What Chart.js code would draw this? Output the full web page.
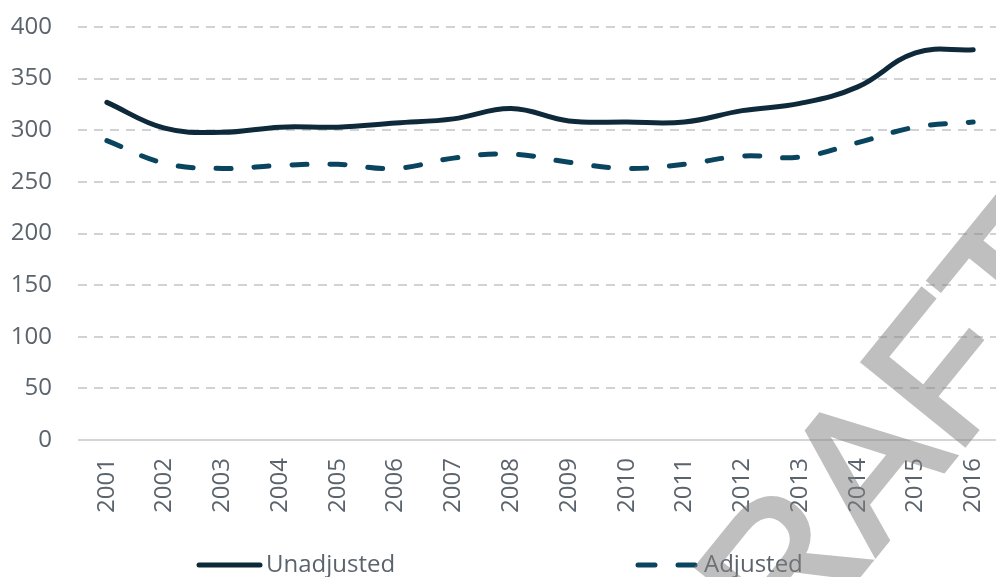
<!DOCTYPE html>
<html>
<head>
<meta charset="utf-8">
<script src="https://cdn.jsdelivr.net/npm/chart.js@4/dist/chart.umd.min.js"></script>
<style>
  html, body { margin: 0; padding: 0; background: #fff; overflow: hidden; }
  #wrap { width: 1020px; height: 577px; }
</style>
</head>
<body>
<div id="wrap"><canvas id="chart" width="1020" height="577"></canvas></div>
<script>
const years = ['2001', '2002', '2003', '2004', '2005', '2006', '2007', '2008',
               '2009', '2010', '2011', '2012', '2013', '2014', '2015', '2016'];
const unadjusted = [327, 302, 298, 303, 303, 307, 311, 321, 309, 308, 308, 319, 326, 342, 375, 378];
const adjusted = [290, 268, 263, 266, 267, 263, 273, 277, 269, 263, 267, 275, 274, 288, 303, 308];
const yTicks = [0, 50, 100, 150, 200, 250, 300, 350, 400];

const FONT = "'Open Sans', sans-serif";
const TEXT = '#5b646c';

// custom legend, spread like the original
const legendPlugin = {
    id: 'spreadLegend',
    afterDraw(chart) {
        const ctx = chart.ctx;
        const y = 565;
        ctx.save();
        ctx.lineCap = 'round';
        ctx.lineWidth = 5;
        ctx.strokeStyle = '#0e2a3a';
        ctx.beginPath();
        ctx.moveTo(199, y);
        ctx.lineTo(260, y);
        ctx.stroke();
        ctx.strokeStyle = '#0a4560';
        ctx.beginPath();
        ctx.moveTo(638, y); ctx.lineTo(655, y);
        ctx.moveTo(678, y); ctx.lineTo(695, y);
        ctx.stroke();
        ctx.fillStyle = TEXT;
        ctx.font = '24px ' + FONT;
        ctx.textBaseline = 'middle';
        ctx.fillText('Unadjusted', 266, y);
        ctx.fillText('Adjusted', 704, y);
        ctx.restore();
    }
};

// DRAFT stamp: drawn solid on a scratch canvas, then laid over at half alpha
const watermarkPlugin = {
    id: 'watermark',
    afterDraw(chart) {
        const ctx = chart.ctx;
        const off = document.createElement('canvas');
        off.width = chart.width;
        off.height = chart.height;
        const o = off.getContext('2d');
        o.translate(902, 522);
        o.rotate(-51 * Math.PI / 180);
        o.font = '190px "Liberation Sans", sans-serif';
        o.textAlign = 'center';
        o.textBaseline = 'alphabetic';
        o.fillStyle = '#808080';
        o.strokeStyle = '#808080';
        o.lineWidth = 5;
        o.fillText('DRAFT', 0, 0);
        o.strokeText('DRAFT', 0, 0);
        ctx.save();
        ctx.globalAlpha = 0.5;
        ctx.drawImage(off, 0, 0);
        ctx.restore();
    }
};

new Chart(document.getElementById('chart'), {
    type: 'line',
    data: {
        labels: years,
        datasets: [{
            label: 'Unadjusted',
            data: unadjusted,
            borderColor: '#0e2a3a',
            borderWidth: 5,
            borderCapStyle: 'round',
            tension: 0.4,
            pointRadius: 0,
            fill: false
        }, {
            label: 'Adjusted',
            data: adjusted,
            borderColor: '#0a4560',
            borderWidth: 5,
            borderDash: [15, 23],
            borderCapStyle: 'round',
            tension: 0.4,
            pointRadius: 0,
            fill: false
        }]
    },
    options: {
        responsive: false,
        animation: false,
        layout: { padding: { top: 27, right: 0, bottom: 0, left: 0 } },
        plugins: {
            legend: { display: false },
            tooltip: { enabled: false }
        },
        scales: {
            x: {
                offset: true,
                grid: { display: false, drawTicks: false },
                border: { display: false },
                ticks: {
                    color: TEXT,
                    font: { family: FONT, size: 24 },
                    maxRotation: 90,
                    minRotation: 90,
                    padding: 18,
                    autoSkip: false
                },
                afterFit(scale) { scale.height = 137; }
            },
            y: {
                min: 0,
                max: 400,
                afterBuildTicks(scale) { scale.ticks = yTicks.map(v => ({ value: v })); },
                grid: {
                    color: (c) => c.tick && c.tick.value === 0 ? '#d3d5d8' : '#cfd3d7',
                    lineWidth: 2,
                    drawTicks: false
                },
                border: { display: false, dash: (c) => c.tick && c.tick.value === 0 ? [] : [9, 7] },
                ticks: {
                    color: TEXT,
                    font: { family: FONT, size: 24 },
                    padding: 26
                },
                afterFit(scale) {
                    scale.width = 78;
                    // tick padding would otherwise push the plot down
                    scale.paddingTop = 0;
                    scale.paddingBottom = 0;
                }
            }
        }
    },
    plugins: [legendPlugin, watermarkPlugin]
});
</script>
</body>
</html>
